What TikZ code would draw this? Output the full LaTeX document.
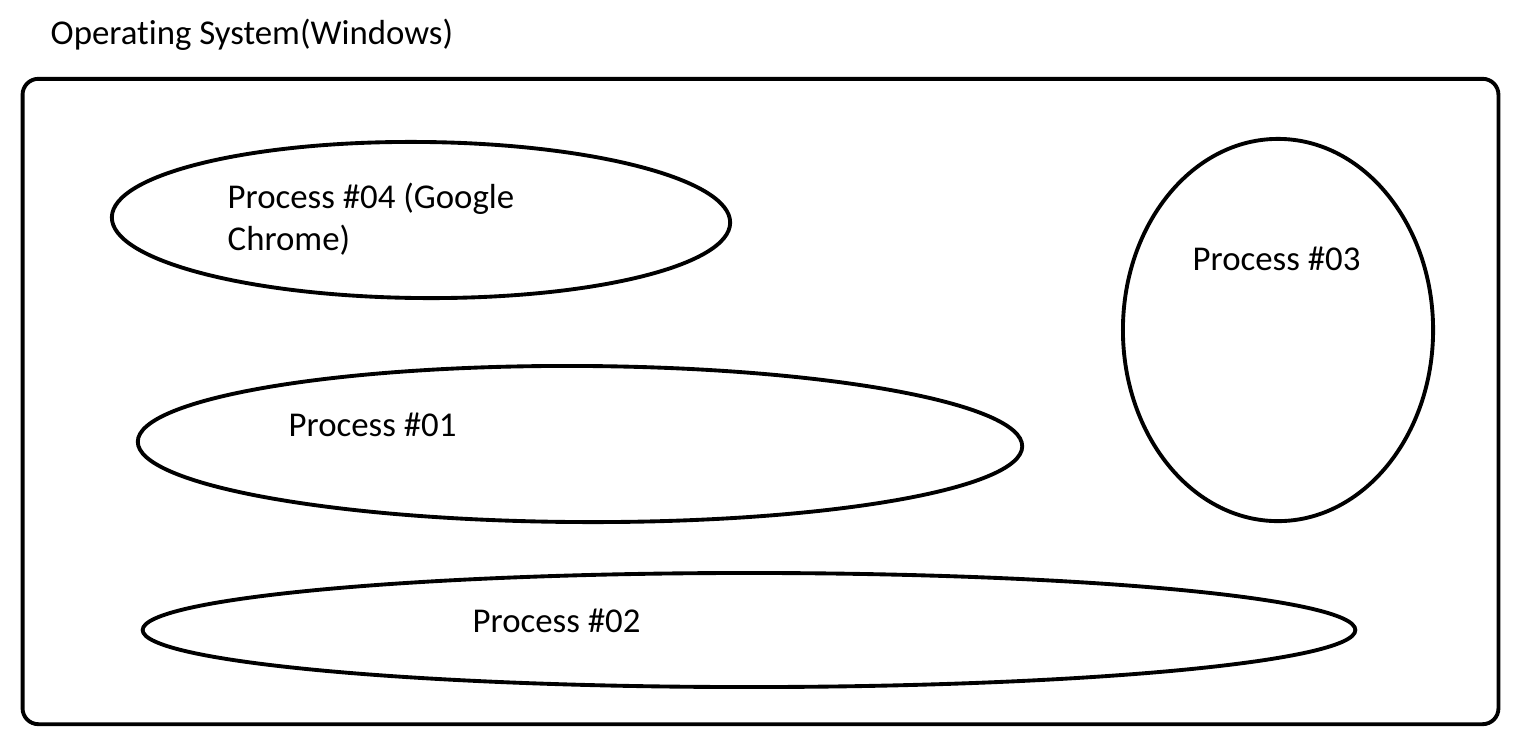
\documentclass[tikz,border=0pt]{standalone}
\usepackage{fontspec}
\setmainfont{Carlito}[Ligatures=NoCommon]
\usetikzlibrary{shapes.geometric}
\tikzset{proc/.style={draw, ellipse, line width=1.1pt, inner sep=0pt},
	lbl/.style={anchor=base west, inner sep=0pt, font=\fontsize{9.9pt}{11.7pt}\selectfont, align=left}}

\begin{document}
\begin{tikzpicture}[x=0.01cm, y=-0.01cm]
	\useasboundingbox (0,0) rectangle (1534,754);
	
	\node[lbl]	(title)	at	(50,44)	{Operating System(Windows)};
	\node[draw, line width=1.1pt, rounded corners=4.5pt, minimum width=14.75cm, minimum height=6.45cm] (OS) at (760.5,401.5) {};
	
	\node[proc, minimum width=6.18cm, minimum height=1.56cm, rotate=-0.5] (P4) at (421,220) {};
	\node[proc, minimum width=8.84cm, minimum height=1.56cm, rotate=-0.3] (P1) at (580,444) {};
	\node[proc, minimum width=12.12cm, minimum height=1.14cm] (P2) at (749,630) {};
	\node[proc, minimum width=3.10cm, minimum height=3.82cm] (P3) at (1278,330) {};
	
	\node[lbl]	(T4)	at	(227,250)	{Process \#04 (Google\\Chrome)};
	\node[lbl]	(T1)	at	(288,436)	{Process \#01};
	\node[lbl]	(T2)	at	(472,632)	{Process \#02};
	\node[lbl]	(T3)	at	(1192,270)	{Process \#03};
\end{tikzpicture}
\end{document}
